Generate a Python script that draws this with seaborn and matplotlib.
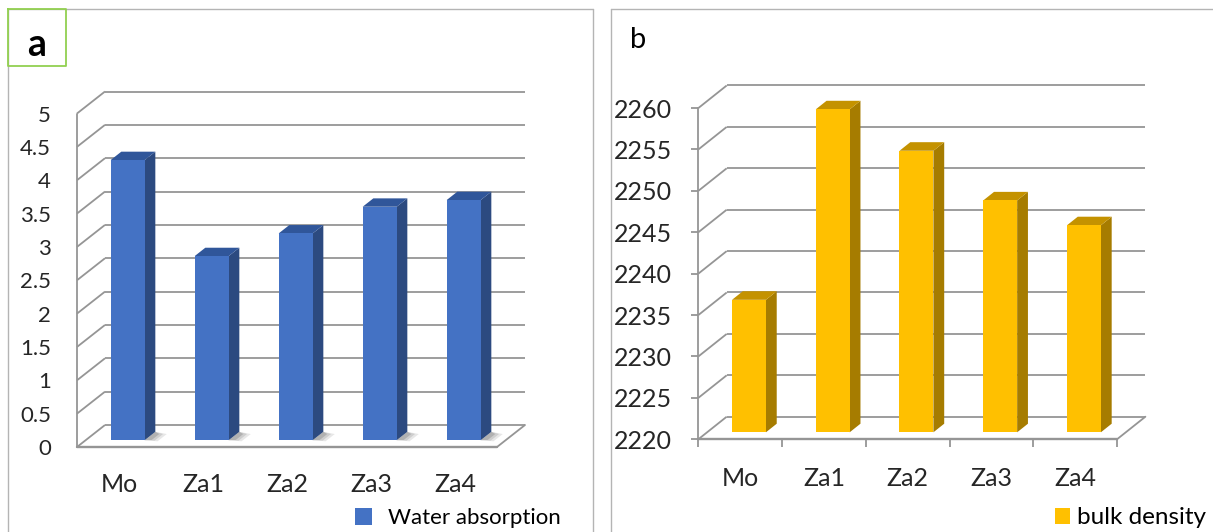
import numpy as np
import pandas as pd
import matplotlib
matplotlib.use("Agg")
import matplotlib.pyplot as plt
import seaborn as sns
from matplotlib.patches import Polygon, Patch
from matplotlib.lines import Line2D

# ---- data -------------------------------------------------------------
categories = ["Mo", "Za1", "Za2", "Za3", "Za4"]
water_absorption = [4.2, 2.76, 3.1, 3.5, 3.6]
bulk_density = [2236, 2259, 2254, 2248, 2245]

water_ticks = [0, 0.5, 1, 1.5, 2, 2.5, 3, 3.5, 4, 4.5, 5]
water_tick_labels = ["0", "0.5", "1", "1.5", "2", "2.5", "3", "3.5", "4", "4.5", "5"]
density_ticks = [2220, 2225, 2230, 2235, 2240, 2245, 2250, 2255, 2260]
density_tick_labels = [str(t) for t in density_ticks]

# ---- figure -----------------------------------------------------------
W, H, DPI = 1213, 532, 100
sns.set_theme(style="white")
plt.rcParams["font.family"] = ["Lato", "DejaVu Sans"]
plt.rcParams["text.color"] = "black"

fig = plt.figure(figsize=(W / DPI, H / DPI), dpi=DPI)
fig.patch.set_facecolor("white")

GRID = "#959595"
GRID_LW = 1.3
BAR_W = 0.405      # bar width in category units
D0, D1 = 0.31, 0.69  # bar depth range (fraction of wall depth)


def fig_xy(px, py):
    return px / W, 1 - py / H


def panel(values, ticks, tick_labels, front_x0, front_x1, y_base, y_top,
          depth_px, colors, ytick_size, ytick_len, xtick_marks, shadow):
    base, top_val = ticks[0], ticks[-1]
    n = len(categories)
    slot_px = (front_x1 - front_x0) / n
    unit_px = (y_base - y_top) / (top_val - base)
    ddx = depth_px[0] / slot_px
    ddy = depth_px[1] / unit_px

    left, right = front_x0, front_x1 + depth_px[0]
    top, bottom = y_top - depth_px[1], y_base
    ax = fig.add_axes([left / W, 1 - bottom / H, (right - left) / W, (bottom - top) / H])
    ax.set_facecolor("none")

    df = pd.DataFrame({"sample": categories, "value": values})
    sns.barplot(data=df, x="sample", y="value", color=colors[0], saturation=1,
                width=BAR_W, ax=ax, zorder=4, linewidth=0)

    ax.set_xlim(-0.5, n - 0.5 + ddx)
    ax.set_ylim(base, top_val + ddy)

    # back wall gridlines with the diagonals joining them to the front axis
    for t in ticks:
        ax.plot([-0.5, -0.5 + ddx], [t, t + ddy], color=GRID, lw=GRID_LW,
                zorder=1, clip_on=False, solid_capstyle="butt")
        ax.plot([-0.5 + ddx, n - 0.5 + ddx], [t + ddy, t + ddy], color=GRID,
                lw=GRID_LW, zorder=1, clip_on=False, solid_capstyle="butt")
    # front axis and floor edges
    ax.plot([-0.5, -0.5], [base, top_val], color=GRID, lw=GRID_LW, zorder=1, clip_on=False)
    ax.plot([-0.5, n - 0.5], [base, base], color=GRID, lw=GRID_LW + 0.4, zorder=1, clip_on=False)
    ax.plot([n - 0.5, n - 0.5 + ddx], [base, base + ddy], color=GRID, lw=GRID_LW,
            zorder=1, clip_on=False)

    # shift the bar fronts into the floor and build side / top faces
    for p, v in zip(ax.patches, values):
        x = p.get_x() + D0 * ddx
        p.set_x(x)
        p.set_y(base + D0 * ddy)
        p.set_height(v - base)
        xl, xr = x, x + p.get_width()

        def at(px_, py_, d):
            return (px_ + (d - D0) * ddx, py_ + (d - D0) * ddy)

        y0 = base + D0 * ddy
        y1 = v + D0 * ddy
        side = [at(xr, y0, D0), at(xr, y1, D0), at(xr, y1, D1), at(xr, y0, D1)]
        topf = [at(xl, y1, D0), at(xr, y1, D0), at(xr, y1, D1), at(xl, y1, D1)]
        ax.add_patch(Polygon(side, closed=True, facecolor=colors[1], edgecolor="none", zorder=3))
        ax.add_patch(Polygon(topf, closed=True, facecolor=colors[2], edgecolor="none", zorder=3))

        if shadow:
            for k, a in enumerate([0.10, 0.12, 0.16]):
                ext = 0.17 - 0.045 * k
                sh = [at(xr, y0, D0), at(xr + ext, y0, D0 - 0.05 + 0.03 * k),
                      at(xr + ext, y0, D1 - 0.1), at(xr, y0, D1)]
                ax.add_patch(Polygon(sh, closed=True, facecolor="#1a1a1a", alpha=a,
                                     edgecolor="none", zorder=2))

    for s in ax.spines.values():
        s.set_visible(False)
    ax.set_xlabel("")
    ax.set_ylabel("")

    ax.set_yticks(ticks)
    ax.set_yticklabels(tick_labels)
    ax.tick_params(axis="y", which="major", length=ytick_len, width=GRID_LW, color=GRID,
                   pad=(26 - ytick_len * DPI / 72) * 72 / DPI if ytick_len else 26 * 72 / DPI,
                   labelsize=ytick_size, left=bool(ytick_len))

    ax.set_xticks(range(n))
    ax.set_xticklabels(categories)
    ax.tick_params(axis="x", which="major", length=0, labelsize=18,
                   pad=(20 if xtick_marks else 19))
    if xtick_marks:
        ax.set_xticks(np.arange(-0.5, n), minor=True)
        ax.tick_params(axis="x", which="minor", length=6, width=GRID_LW, color=GRID,
                       bottom=True)
    return ax


# ---- panel a : water absorption ---------------------------------------
panel(water_absorption, water_ticks, water_tick_labels,
      front_x0=77, front_x1=497, y_base=447, y_top=113.5, depth_px=(28, 22),
      colors=("#4472C4", "#2C4A80", "#30569A"), ytick_size=16, ytick_len=0,
      xtick_marks=False, shadow=True)

# ---- panel b : bulk density -------------------------------------------
panel(bulk_density, density_ticks, density_tick_labels,
      front_x0=698.3, front_x1=1117, y_base=439.3, y_top=108.1, depth_px=(28.4, 22.6),
      colors=("#FFC000", "#A67C00", "#C49200"), ytick_size=18, ytick_len=5,
      xtick_marks=True, shadow=False)

# ---- panel frames -----------------------------------------------------
BORDER = "#B4B4B4"
for (x0, x1) in [(8, 593), (611, W + 5)]:
    fig.add_artist(Line2D([x0 / W, x0 / W], [1 - 9.3 / H, -0.02], color=BORDER, lw=1.0,
                          transform=fig.transFigure))
    fig.add_artist(Line2D([x0 / W, x1 / W], [1 - 9.3 / H, 1 - 9.3 / H], color=BORDER, lw=1.0,
                          transform=fig.transFigure))
    fig.add_artist(Line2D([x1 / W, x1 / W], [1 - 9.3 / H, -0.02], color=BORDER, lw=1.0,
                          transform=fig.transFigure))

# panel letters
fig.add_artist(Line2D([8 / W, 66 / W, 66 / W, 8 / W, 8 / W],
                      [1 - 9.3 / H, 1 - 9.3 / H, 1 - 66 / H, 1 - 66 / H, 1 - 9.3 / H],
                      color="#92D050", lw=1.3, transform=fig.transFigure))
fig.text(*fig_xy(37, 45), "a", fontsize=27, fontweight="bold", ha="center", va="center")
fig.text(*fig_xy(638.5, 40), "b", fontsize=21, ha="center", va="center")

# legends
fig.legend(handles=[Patch(facecolor="#4472C4", edgecolor="none")], labels=["Water absorption"],
           loc="center left", bbox_to_anchor=fig_xy(355, 518), frameon=False, borderpad=0,
           borderaxespad=0, handlelength=0.77, handleheight=0.77, handletextpad=0.72,
           fontsize=16)
fig.legend(handles=[Patch(facecolor="#FFC000", edgecolor="none")], labels=["bulk density"],
           loc="center left", bbox_to_anchor=fig_xy(1055, 518), frameon=False, borderpad=0,
           borderaxespad=0, handlelength=0.62, handleheight=0.62, handletextpad=0.28,
           fontsize=17.5)

fig.savefig("out.png", dpi=DPI, facecolor="white")
